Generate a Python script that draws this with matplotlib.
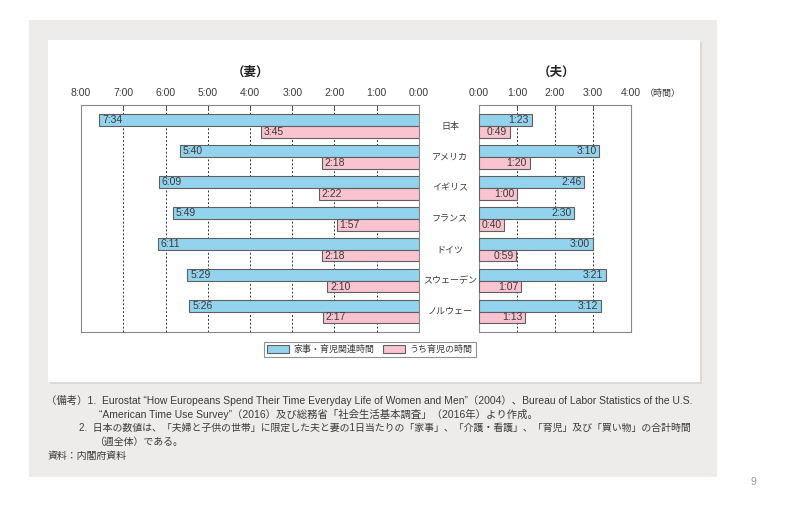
import numpy as np
import matplotlib.pyplot as plt
from matplotlib.patches import Rectangle, Patch

plt.rcParams['font.family'] = ['Liberation Sans', 'Noto Sans CJK JP', 'DejaVu Sans']

# data (hours:minutes)
countries = ['日本', 'アメリカ', 'イギリス', 'フランス', 'ドイツ', 'スウェーデン', 'ノルウェー']
wife_total = ['7:34', '5:40', '6:09', '5:49', '6:11', '5:29', '5:26']
wife_child = ['3:45', '2:18', '2:22', '1:57', '2:18', '2:10', '2:17']
husb_total = ['1:23', '3:10', '2:46', '2:30', '3:00', '3:21', '3:12']
husb_child = ['0:49', '1:20', '1:00', '0:40', '0:59', '1:07', '1:13']
left_ticks = ['8:00', '7:00', '6:00', '5:00', '4:00', '3:00', '2:00', '1:00', '0:00']
right_ticks = ['0:00', '1:00', '2:00', '3:00', '4:00']
legend_labels = ['家事・育児関連時間', 'うち育児の時間']
notes = [
    '（備考）1.  Eurostat “How Europeans Spend Their Time Everyday Life of Women and Men”（2004）、Bureau of Labor Statistics of the U.S.',
    '“American Time Use Survey”（2016）及び総務省「社会生活基本調査」（2016年）より作成。',
    '2.  日本の数値は、「夫婦と子供の世帯」に限定した夫と妻の1日当たりの「家事」、「介護・看護」、「育児」及び「買い物」の合計時間',
    '（週全体）である。',
    '資料：内閣府資料',
]


def to_hours(s):
    h, m = s.split(':')
    return int(h) + int(m) / 60


BLUE = '#93d3ee'
PINK = '#f9c3cf'
EDGE = '#5f5f5f'
TXT = '#3a3a3a'
W, H = 800, 505


def fx(px):
    return px / W


def fy(py):
    return 1 - py / H


fig = plt.figure(figsize=(8, 5.05), dpi=100, facecolor='white')

# grey panel and white card
fig.patches.append(Rectangle((fx(29), fy(477)), fx(717 - 29), (477 - 20) / H,
                             transform=fig.transFigure, facecolor='#eeecea', edgecolor='none', zorder=-3))
fig.patches.append(Rectangle((fx(50), fy(384)), fx(652), (384 - 42) / H,
                             transform=fig.transFigure, facecolor='#dcdad8', edgecolor='none', zorder=-2))
fig.patches.append(Rectangle((fx(48), fy(382)), fx(652), (382 - 40) / H,
                             transform=fig.transFigure, facecolor='white', edgecolor='none', zorder=-1))

top, bottom = 105, 332
axL = fig.add_axes([fx(81), fy(bottom), fx(419 - 81), (bottom - top) / H])
axR = fig.add_axes([fx(479), fy(bottom), fx(631 - 479), (bottom - top) / H])

y = np.arange(len(countries))
wt = [to_hours(v) for v in wife_total]
wc = [to_hours(v) for v in wife_child]
ht = [to_hours(v) for v in husb_total]
hc = [to_hours(v) for v in husb_child]

for ax, tot, ch, tl, cl, ticks, xmax in [
        (axL, wt, wc, wife_total, wife_child, left_ticks, 8),
        (axR, ht, hc, husb_total, husb_child, right_ticks, 4)]:
    ax.barh(y - 0.19, tot, height=0.39, color=BLUE, edgecolor=EDGE, linewidth=0.8, zorder=3)
    ax.barh(y + 0.19, ch, height=0.38, color=PINK, edgecolor=EDGE, linewidth=0.8, zorder=4)
    ax.set_ylim(6.66, -0.68)
    ax.set_yticks([])
    for h in range(1, xmax):
        ax.axvline(h, color='#333333', linewidth=0.7, linestyle=(0, (2, 2)), zorder=1)
    ax.xaxis.tick_top()
    ax.set_xticks(range(xmax + 1) if ax is axR else range(xmax, -1, -1))
    ax.set_xticklabels(ticks, fontsize=7.5, color=TXT)
    ax.tick_params(axis='x', direction='in', length=3, width=0.6, pad=5, color='#333333')
    for s in ax.spines.values():
        s.set_color('#888888')
        s.set_linewidth(0.8)
    for i in range(len(countries)):
        if ax is axL:
            ax.annotate(tl[i], (tot[i], y[i] - 0.19), xytext=(2, 0), textcoords='offset points',
                        ha='left', va='center', fontsize=7.5, color=TXT, zorder=5)
            ax.annotate(cl[i], (ch[i], y[i] + 0.19), xytext=(2, 0), textcoords='offset points',
                        ha='left', va='center', fontsize=7.5, color=TXT, zorder=5)
        else:
            ax.annotate(tl[i], (tot[i], y[i] - 0.19), xytext=(-2, 0), textcoords='offset points',
                        ha='right', va='center', fontsize=7.5, color=TXT, zorder=5)
            ax.annotate(cl[i], (ch[i], y[i] + 0.19), xytext=(-2, 0), textcoords='offset points',
                        ha='right', va='center', fontsize=7.5, color=TXT, zorder=5)

axL.set_xlim(8, 0)
axR.set_xlim(0, 4)

fig.text(fx(250), fy(73), '（妻）', fontsize=9, fontweight='bold', ha='center', va='center', color='#222222')
fig.text(fx(556), fy(73), '（夫）', fontsize=9, fontweight='bold', ha='center', va='center', color='#222222')
fig.text(fx(663), fy(93), '（時間）', fontsize=6.5, ha='center', va='center', color=TXT)

# country names between the panels
for i, c in enumerate(countries):
    yd = axL.transData.transform((0, y[i]))[1]
    yf = fig.transFigure.inverted().transform((0, yd))[1]
    fig.text(fx(450), yf, c, fontsize=6.5, ha='center', va='center', color=TXT)

handles = [Patch(facecolor=BLUE, edgecolor=EDGE, linewidth=0.8),
           Patch(facecolor=PINK, edgecolor=EDGE, linewidth=0.8)]
leg = fig.legend(handles, legend_labels, loc='center', bbox_to_anchor=(fx(370), fy(349.5)),
                 ncol=2, fontsize=6.5, frameon=True, fancybox=False, handlelength=2.4,
                 handleheight=0.9, columnspacing=1.0, borderpad=0.35, handletextpad=0.5)
leg.get_frame().set_edgecolor('#777777')
leg.get_frame().set_linewidth(0.8)
for t in leg.get_texts():
    t.set_color(TXT)

note_pos = [(46, 400), (99, 414), (79, 428), (94, 442), (48, 456)]
note_size = [7.45, 7.45, 7.15, 7.15, 7.15]
for (px, py), fs, txt in zip(note_pos, note_size, notes):
    fig.text(fx(px), fy(py), txt, fontsize=fs, ha='left', va='center', color=TXT)

fig.text(fx(753), fy(482), '9', fontsize=7.5, ha='center', va='center', color='#999999')

fig.savefig('out.png', dpi=100, facecolor='white')
